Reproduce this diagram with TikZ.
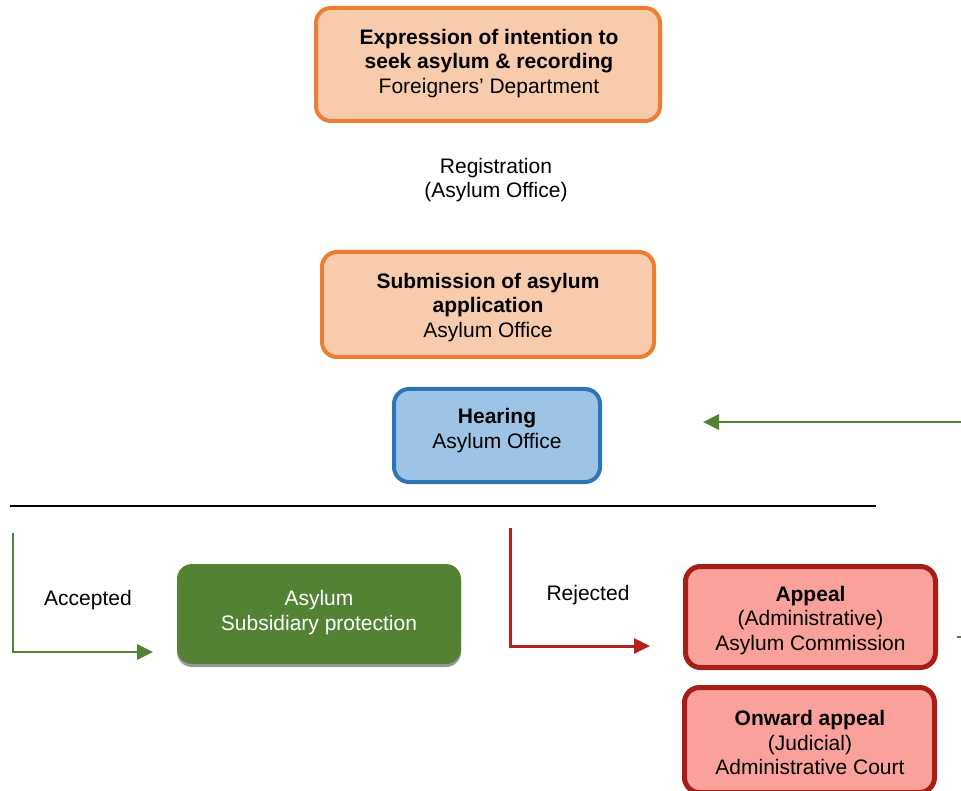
\documentclass[tikz,border=0pt]{standalone}
\usepackage{fontspec}
\setmainfont{Liberation Sans}
\usetikzlibrary{arrows.meta,shadows}
\definecolor{orB}{HTML}{ED7D31}
\definecolor{orF}{HTML}{F8CBAD}
\definecolor{blB}{HTML}{2E75B6}
\definecolor{blF}{HTML}{9DC3E6}
\definecolor{gr}{HTML}{548235}
\definecolor{rdB}{HTML}{A81D17}
\definecolor{rdF}{HTML}{F9A19A}
\definecolor{rdA}{HTML}{B0231C}
\begin{document}
\begin{tikzpicture}[x=1pt,y=-1pt,
  box/.style={rounded corners=15pt, line width=4pt, inner sep=0pt},
  orbox/.style={box, draw=orB, fill=orF},
  blbox/.style={box, draw=blB, fill=blF},
  rdbox/.style={box, line width=5pt, draw=rdB, fill=rdF},
  grbox/.style={box, draw=none, fill=gr, drop shadow={shadow xshift=0pt, shadow yshift=-3pt, fill=black!40, opacity=1}},
  txt/.style={align=center, font=\fontsize{21}{24.6}\selectfont, inner sep=0pt, yshift=-2.5pt},
  garrow/.style={draw=gr, line width=2.8pt, -{Triangle[length=16pt,width=15pt]}},
  rarrow/.style={draw=rdA, line width=3pt, -{Triangle[length=16pt,width=15pt]}},
 ]
\useasboundingbox (0,0) rectangle (961,791);
\clip (0,0) rectangle (961,791);
% boxes
\node[orbox, minimum width=344pt, minimum height=113pt] (expr) at (488,64.5) {};
\node[orbox, minimum width=332pt, minimum height=105pt] (subm) at (488,304.5) {};
\node[blbox, minimum width=206pt, minimum height=93pt] (hear) at (497,435.5) {};
\node[grbox, minimum width=284pt, minimum height=100pt] (asyl) at (319,614) {};
\node[rdbox, minimum width=250pt, minimum height=101pt] (appe) at (810.5,617) {};
\node[rdbox, minimum width=250pt, minimum height=105pt] (onwa) at (809.5,740) {};
% texts
\node[txt] (exprT) at (489,61) {\textbf{Expression of intention to}\\\textbf{seek asylum \& recording}\\Foreigners’ Department};
\node[txt] (regT) at (496,177.5) {Registration\\(Asylum Office)};
\node[txt] (submT) at (488,305) {\textbf{Submission of asylum}\\\textbf{application}\\Asylum Office};
\node[txt] (hearT) at (497,428) {\textbf{Hearing}\\Asylum Office};
\node[txt, text=white] (asylT) at (319,610) {Asylum\\Subsidiary protection};
\node[txt] (appeT) at (810.5,618) {\textbf{Appeal}\\(Administrative)\\Asylum Commission};
\node[txt] (onwaT) at (810,740) {\textbf{Onward appeal}\\(Judicial)\\Administrative Court};
\node[txt] (accT) at (88,598) {Accepted};
\node[txt] (rejT) at (588,593) {Rejected};
% separator
\coordinate (s1) at (10,506);
\coordinate (s2) at (876,506);
\draw[line width=2pt, black] (s1) -- (s2);
% connectors
\coordinate (gA) at (963,422);
\coordinate (gB) at (703,422);
\draw[garrow] (gA) -- (gB);
\coordinate (aS) at (13,533);
\coordinate (aE) at (153,652);
\draw[garrow] (aS) |- (aE);
\coordinate (rS) at (510,528);
\coordinate (rE) at (650,646);
\draw[rarrow] (rS) |- (rE);
\coordinate (dA) at (957,637);
\coordinate (dB) at (963,637);
\draw[draw=gr, line width=2.8pt] (dA) -- (dB);
\end{tikzpicture}
\end{document}
